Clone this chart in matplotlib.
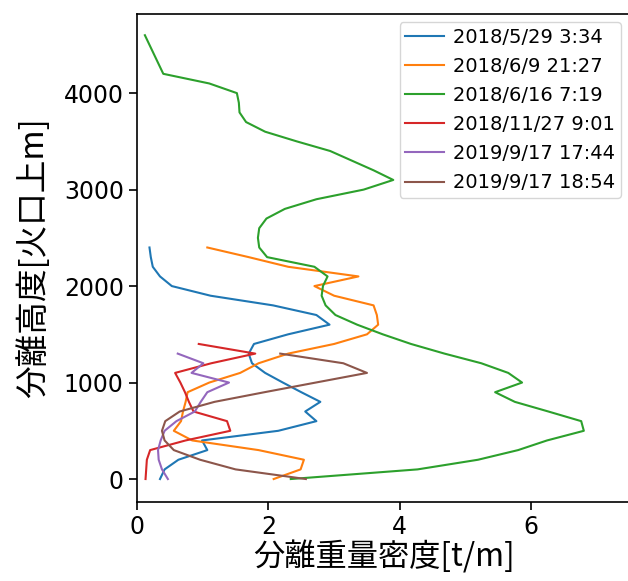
import matplotlib
matplotlib.use('Agg')
import matplotlib.pyplot as plt

# density [t/m], height [m above crater]
labels = ['2018/5/29 3:34', '2018/6/9 21:27', '2018/6/16 7:19',
          '2018/11/27 9:01', '2019/9/17 17:44', '2019/9/17 18:54']

h_0529 = [0, 100, 200, 300, 400, 500, 600, 700, 800, 900, 1000, 1100, 1200,
          1300, 1400, 1500, 1600, 1700, 1800, 1900, 2000, 2100, 2200, 2300, 2400]
d_0529 = [0.35, 0.42, 0.63, 1.07, 0.99, 2.15, 2.73, 2.56, 2.79, 2.50, 2.22, 1.95, 1.75,
          1.70, 1.78, 2.30, 2.93, 2.73, 2.07, 1.12, 0.53, 0.35, 0.24, 0.21, 0.19]

h_0609 = [0, 100, 200, 300, 400, 500, 600, 700, 800, 900, 1000, 1100, 1200,
          1300, 1400, 1500, 1600, 1700, 1800, 1900, 2000, 2100, 2200, 2300, 2400]
d_0609 = [2.08, 2.49, 2.54, 1.85, 0.84, 0.56, 0.67, 0.70, 0.74, 0.77, 1.10, 1.57, 1.85,
          2.30, 3.00, 3.50, 3.67, 3.65, 3.60, 3.00, 2.70, 3.37, 2.30, 1.70, 1.07]

h_0616 = [0, 100, 200, 300, 400, 500, 600, 700, 800, 900, 1000, 1100, 1200, 1300,
          1400, 1500, 1600, 1700, 1800, 1900, 2000, 2100, 2200, 2300, 2400, 2500,
          2600, 2700, 2800, 2900, 3000, 3100, 3200, 3300, 3400, 3500, 3600, 3700,
          3800, 3900, 4000, 4100, 4200, 4600]
d_0616 = [2.34, 4.27, 5.19, 5.80, 6.24, 6.80, 6.76, 6.26, 5.75, 5.45, 5.86, 5.65, 5.24, 4.68,
          4.17, 3.74, 3.35, 3.02, 2.87, 2.81, 2.83, 2.90, 2.70, 1.98, 1.86, 1.84,
          1.86, 1.97, 2.25, 2.73, 3.45, 3.90, 3.60, 3.27, 2.94, 2.43, 1.95, 1.66,
          1.56, 1.55, 1.52, 1.10, 0.40, 0.12]

h_1127 = [0, 100, 200, 300, 400, 500, 600, 700, 800, 900, 1000, 1100, 1200, 1300, 1400]
d_1127 = [0.13, 0.14, 0.15, 0.20, 0.74, 1.42, 1.37, 0.86, 0.79, 0.73, 0.66, 0.58, 1.13, 1.80, 0.94]

h_0917a = [0, 100, 200, 300, 400, 500, 600, 700, 800, 900, 1000, 1100, 1200, 1300]
d_0917a = [0.47, 0.38, 0.33, 0.32, 0.36, 0.42, 0.60, 0.88, 0.97, 1.07, 1.40, 0.83, 1.01, 0.62]

h_0917b = [0, 100, 200, 300, 400, 500, 600, 700, 800, 900, 1000, 1100, 1200, 1300]
d_0917b = [2.57, 1.50, 0.96, 0.56, 0.42, 0.38, 0.43, 0.65, 1.18, 1.94, 2.72, 3.50, 3.14, 2.18]

profiles = [(d_0529, h_0529), (d_0609, h_0609), (d_0616, h_0616),
            (d_1127, h_1127), (d_0917a, h_0917a), (d_0917b, h_0917b)]

cjk = ['Noto Sans CJK JP', 'DejaVu Sans']

fig = plt.figure(figsize=(6.28, 5.81), dpi=100)
ax = fig.add_axes([137 / 628, 1 - 502 / 581, 1.005 - 137 / 628, (502 - 14) / 581])

for (d, h), lab in zip(profiles, labels):
    ax.plot(d, h, label=lab, lw=1.5)

ax.set_xlim(0, 7.52)
ax.set_ylim(-238, 4820)
ax.set_xticks([0, 2, 4, 6])
ax.set_yticks([0, 1000, 2000, 3000, 4000])
for t in ax.get_xticklabels() + ax.get_yticklabels():
    t.set_family('DejaVu Sans')
    t.set_fontsize(17)
ax.tick_params(length=6, width=1.2)
for s in ax.spines.values():
    s.set_linewidth(1.2)

ax.set_xlabel('分離重量密度[t/m]', family=cjk, fontsize=22.5, labelpad=1)
ax.set_ylabel('分離高度[火口上m]', family=cjk, fontsize=23.5, labelpad=10)

ax.legend(loc='upper right', bbox_to_anchor=(621 / 628, 1 - 22 / 581),
          bbox_transform=fig.transFigure, borderaxespad=0,
          prop={'family': 'DejaVu Sans', 'size': 14},
          labelspacing=0.52, handletextpad=0.45, borderpad=0.3)

fig.savefig('out.png', dpi=100)
